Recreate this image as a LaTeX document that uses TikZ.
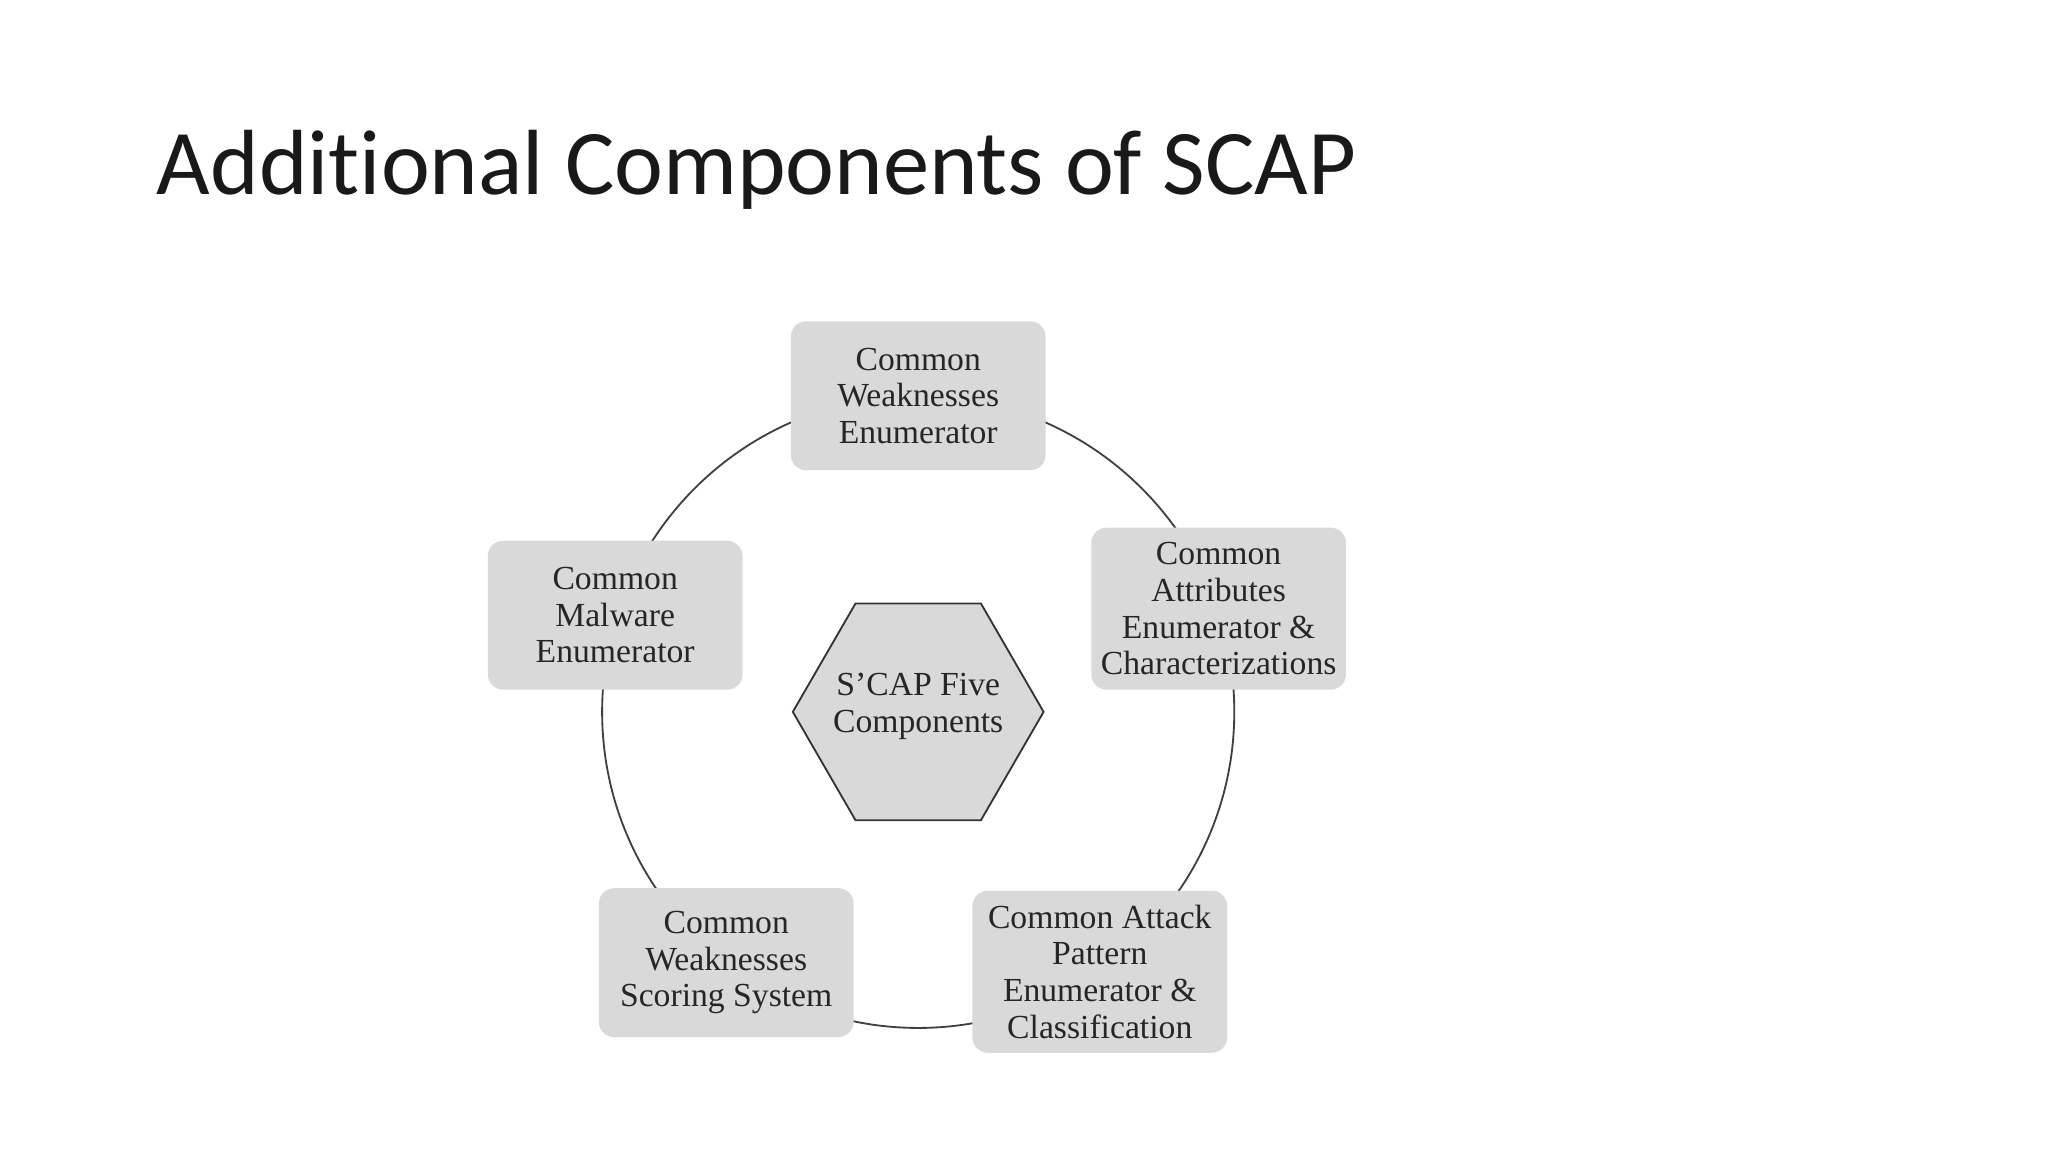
\documentclass[tikz,border=0pt]{standalone}
\usepackage{fontspec}
\setmainfont{Liberation Serif}
\newfontfamily\titlefont[Ligatures=NoCommon]{Carlito}
\begin{document}
\begin{tikzpicture}[x=0.03cm,y=-0.03cm,
  comp/.style={draw=none,fill=black!15,rounded corners=10pt,minimum width=195*0.8536pt,minimum height=114*0.8536pt,align=center,font=\fontsize{22}{24}\selectfont,text=black!85},
  ring/.style={draw=black!75,line width=1.2pt}]
\useasboundingbox (0,0) rectangle (1568,882);
\node[anchor=west,font=\titlefont\fontsize{60.5}{66}\selectfont,text=black!90] (title) at (116,130) {Additional Components of SCAP};
\draw[ring] (703,545) circle (242);
\node[comp] (cwe) at (703,303) {Common\\Weaknesses\\Enumerator};
\node[comp,minimum height=124*0.8536pt] (cae) at (933,466) {Common\\Attributes\\Enumerator \&\\Characterizations};
\node[comp] (cme) at (471,471) {Common\\Malware\\Enumerator};
\node[comp] (cwss) at (556,737) {Common\\Weaknesses\\Scoring System};
\node[comp,minimum height=124*0.8536pt] (capec) at (842,744) {Common Attack\\Pattern\\Enumerator \&\\Classification};
\draw[fill=black!15,draw=black!80,line width=1.2pt] (607,545) -- (655,462) -- (751,462) -- (799,545) -- (751,628) -- (655,628) -- cycle;
\node[align=center,font=\fontsize{22}{24}\selectfont,text=black!85] (hex) at (703,541) {S'CAP Five\\Components};
\end{tikzpicture}
\end{document}
